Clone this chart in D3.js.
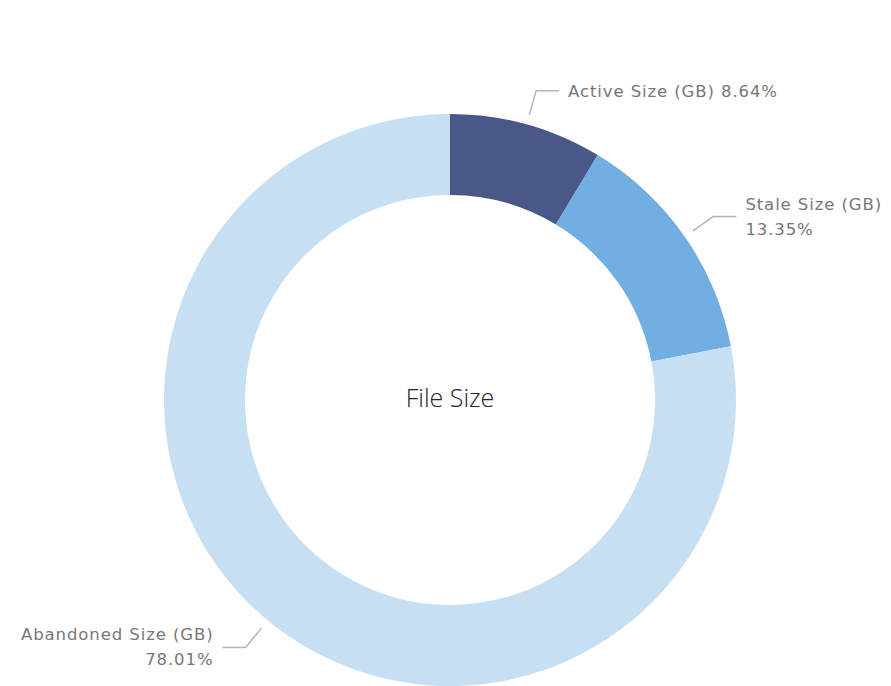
<!DOCTYPE html>
<html>
<head>
<meta charset="utf-8">
<script src="https://cdn.jsdelivr.net/npm/d3@7"></script>
<style>
  body { margin: 0; background: #fff; }
  svg { display: block; }
</style>
</head>
<body>
<div id="chart"></div>
<script>
// data
var categories = ["Active Size (GB)", "Stale Size (GB)", "Abandoned Size (GB)"];
var shares = [8.64, 13.35, 78.01];
var colors = ["#4a5888", "#71afe2", "#c7dff2"];
var centerTitle = "File Size";

var width = 891, height = 686;
var cx = 450, cy = 400, outerR = 286, innerR = 205;

var svg = d3.select("#chart").append("svg")
    .attr("width", width)
    .attr("height", height);

var g = svg.append("g")
    .attr("transform", "translate(" + cx + "," + cy + ")");

var pie = d3.pie().sort(null).value(function (d) { return d; });
var arcs = pie(shares);

var arc = d3.arc().innerRadius(innerR).outerRadius(outerR);

g.selectAll("path.slice")
    .data(arcs)
    .enter()
    .append("path")
    .attr("class", "slice")
    .attr("d", arc)
    .attr("fill", function (d, i) { return colors[i]; });

// center label
g.append("text")
    .attr("text-anchor", "middle")
    .attr("y", 7)
    .style("font-family", "'Open Sans', sans-serif")
    .style("font-weight", 300)
    .style("font-size", "25px")
    .style("fill", "#252423")
    .text(centerTitle);

// leader lines + labels
function polar(r, a) {
    return [r * Math.sin(a), -r * Math.cos(a)];
}

var labelFont = "'DejaVu Sans', sans-serif";

arcs.forEach(function (d, i) {
    var mid = (d.startAngle + d.endAngle) / 2;
    var p0 = polar(outerR + 10, mid);
    var p1 = polar(outerR + 35, mid);
    var right = Math.sin(mid) >= 0;
    var p2 = [p1[0] + (right ? 23 : -23), p1[1]];

    g.append("polyline")
        .attr("points", [p0, p1, p2].map(function (p) { return p.join(","); }).join(" "))
        .attr("fill", "none")
        .attr("stroke", "#b3b3b3")
        .attr("stroke-width", 1.5);

    var pct = d3.format(".2f")(d.data) + "%";
    var t = g.append("text")
        .attr("text-anchor", right ? "start" : "end")
        .style("font-family", labelFont)
        .style("font-size", "16.5px")
        .style("letter-spacing", "0.9px")
        .style("fill", "#777777");
    var tx = p2[0] + (right ? 9 : -9);

    if (i === 0) {
        t.attr("x", tx).attr("y", p2[1] + 6).text(categories[i] + " " + pct);
    } else {
        t.append("tspan").attr("x", tx).attr("y", p2[1] - 7).text(categories[i]);
        t.append("tspan").attr("x", tx).attr("y", p2[1] + 18).text(pct);
    }
});
</script>
</body>
</html>
